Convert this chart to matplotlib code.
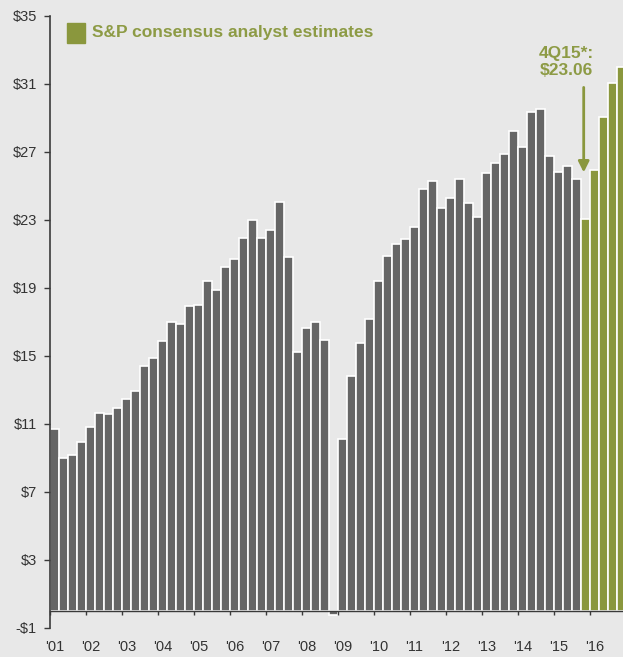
import numpy as np
import matplotlib
matplotlib.use("Agg")
import matplotlib.pyplot as plt

# quarterly operating EPS, 1Q01 .. 3Q15 (actual)
actual_eps = [10.69, 9.02, 9.16, 9.94, 10.84, 11.63, 11.59, 11.94, 12.47, 12.94,
              14.43, 14.86, 15.88, 16.98, 16.86, 17.96, 18.02, 19.41, 18.86, 20.22,
              20.73, 21.94, 23.00, 21.96, 22.41, 24.04, 20.82, 15.25, 16.65, 16.98,
              15.94, -0.23, 10.12, 13.82, 15.78, 17.16, 19.39, 20.90, 21.57, 21.88,
              22.57, 24.82, 25.31, 23.71, 24.27, 25.41, 24.00, 23.20, 25.78, 26.37,
              26.90, 28.25, 27.31, 29.33, 29.55, 26.75, 25.81, 26.16, 25.43]
# 4Q15 .. 4Q16 (consensus estimates)
estimate_eps = [23.06, 25.94, 29.04, 31.08, 32.02]

year_labels = ["'01", "'02", "'03", "'04", "'05", "'06", "'07", "'08",
               "'09", "'10", "'11", "'12", "'13", "'14", "'15", "'16"]
y_ticks = [-1, 3, 7, 11, 15, 19, 23, 27, 31, 35]

bg = '#e8e8e8'
gray = '#666666'
green = '#8a973d'
text_green = '#8d9b45'
axis_col = '#3a3a3a'

plt.rcParams['font.family'] = ['Liberation Sans', 'DejaVu Sans']

fig = plt.figure(figsize=(6.23, 6.57), dpi=100, facecolor=bg)
ax = fig.add_axes([50 / 623, 29 / 657, 573 / 623, 612 / 657], facecolor=bg)

n_act = len(actual_eps)
x_act = np.arange(n_act)
x_est = np.arange(n_act, n_act + len(estimate_eps))

ax.bar(x_act, actual_eps, width=1.0, color=gray, edgecolor='white', linewidth=1.2)
ax.bar(x_est, estimate_eps, width=1.0, color=green, edgecolor='white', linewidth=1.2)

ax.set_ylim(-1, 35)
ax.set_xlim(-0.5, -0.5 + 573 / 9)

ax.set_yticks(y_ticks)
ax.set_yticklabels([('-$%d' % -v) if v < 0 else ('$%d' % v) for v in y_ticks])
ax.tick_params(axis='y', direction='out', length=4.5, width=1.0, color=axis_col,
               labelsize=10.5, labelcolor='#333333', pad=5)

# year boundaries carry the tick marks, labels sit under the first quarter
yr_pos = np.arange(len(year_labels)) * 4
ax.set_xticks(yr_pos - 0.5)
ax.set_xticklabels([])
ax.set_xticks(yr_pos, minor=True)
ax.set_xticklabels(year_labels, minor=True)
ax.tick_params(axis='x', which='major', direction='out', length=3, width=1.0,
               color=axis_col)
ax.tick_params(axis='x', which='minor', length=0, labelsize=10.5,
               labelcolor='#333333', pad=21)

for s in ['top', 'right']:
    ax.spines[s].set_visible(False)
ax.spines['bottom'].set_position(('data', 0))
ax.spines['bottom'].set_color(axis_col)
ax.spines['bottom'].set_linewidth(1.0)
ax.spines['left'].set_color(axis_col)
ax.spines['left'].set_linewidth(1.2)

# legend swatch + label
fig.patches.append(plt.Rectangle((67 / 623, 1 - 43 / 657), 18 / 623, 20 / 657,
                                 transform=fig.transFigure, color=green))
fig.text(92 / 623, 1 - 33 / 657, 'S&P consensus analyst estimates', color=text_green,
         fontsize=12.5, fontweight='bold', va='center', ha='left')

# 4Q15 callout
ax.text(56.9, 32.3, '4Q15*:\n$23.06', color=text_green, fontsize=12.5,
        fontweight='bold', ha='center', va='center', linespacing=1.15)
ax.annotate('', xy=(58.8, 25.8), xytext=(58.8, 30.8),
            arrowprops=dict(arrowstyle='-|>', color=green, lw=2,
                            mutation_scale=16, shrinkA=0, shrinkB=0))

fig.savefig('out.png', dpi=100, facecolor=bg)
